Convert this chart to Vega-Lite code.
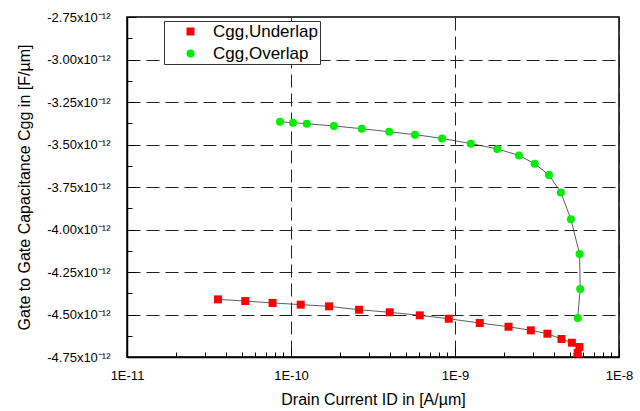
{
  "$schema": "https://vega.github.io/schema/vega-lite/v6.json",
  "autosize": {"type": "none"},
  "width": 492,
  "height": 340,
  "padding": {"left": 127, "top": 17, "right": 21, "bottom": 54},
  "background": "white",
  "config": {
    "font": "Liberation Sans",
    "view": {"stroke": "black", "strokeWidth": 1.5},
    "axis": {
      "domainColor": "black",
      "domainWidth": 1.5,
      "tickColor": "black",
      "tickWidth": 1,
      "labelColor": "black",
      "titleColor": "black",
      "titleFontWeight": "normal",
      "titleFontSize": 16,
      "labelFontSize": 13,
      "gridColor": "#222222",
      "gridDash": [13, 6],
      "gridWidth": 1
    }
  },
  "data": {
    "values": [
      {"series": "Cgg,Underlap", "i": 1, "id": 3.59e-11, "cgg": -4.411e-12},
      {"series": "Cgg,Underlap", "i": 2, "id": 5.26e-11, "cgg": -4.421e-12},
      {"series": "Cgg,Underlap", "i": 3, "id": 7.72e-11, "cgg": -4.432e-12},
      {"series": "Cgg,Underlap", "i": 4, "id": 1.146e-10, "cgg": -4.442e-12},
      {"series": "Cgg,Underlap", "i": 5, "id": 1.706e-10, "cgg": -4.452e-12},
      {"series": "Cgg,Underlap", "i": 6, "id": 2.60e-10, "cgg": -4.472e-12},
      {"series": "Cgg,Underlap", "i": 7, "id": 4.00e-10, "cgg": -4.487e-12},
      {"series": "Cgg,Underlap", "i": 8, "id": 6.10e-10, "cgg": -4.505e-12},
      {"series": "Cgg,Underlap", "i": 9, "id": 9.16e-10, "cgg": -4.525e-12},
      {"series": "Cgg,Underlap", "i": 10, "id": 1.416e-9, "cgg": -4.550e-12},
      {"series": "Cgg,Underlap", "i": 11, "id": 2.12e-9, "cgg": -4.572e-12},
      {"series": "Cgg,Underlap", "i": 12, "id": 2.90e-9, "cgg": -4.593e-12},
      {"series": "Cgg,Underlap", "i": 13, "id": 3.66e-9, "cgg": -4.613e-12},
      {"series": "Cgg,Underlap", "i": 14, "id": 4.46e-9, "cgg": -4.644e-12},
      {"series": "Cgg,Underlap", "i": 15, "id": 5.16e-9, "cgg": -4.666e-12},
      {"series": "Cgg,Underlap", "i": 16, "id": 5.74e-9, "cgg": -4.691e-12},
      {"series": "Cgg,Underlap", "i": 17, "id": 5.60e-9, "cgg": -4.726e-12},
      {"series": "Cgg,Underlap", "i": 18, "id": 5.58e-9, "cgg": -4.748e-12},
      {"series": "Cgg,Overlap", "i": 1, "id": 8.57e-11, "cgg": -3.366e-12},
      {"series": "Cgg,Overlap", "i": 2, "id": 1.028e-10, "cgg": -3.372e-12},
      {"series": "Cgg,Overlap", "i": 3, "id": 1.247e-10, "cgg": -3.378e-12},
      {"series": "Cgg,Overlap", "i": 4, "id": 1.828e-10, "cgg": -3.391e-12},
      {"series": "Cgg,Overlap", "i": 5, "id": 2.70e-10, "cgg": -3.407e-12},
      {"series": "Cgg,Overlap", "i": 6, "id": 3.97e-10, "cgg": -3.425e-12},
      {"series": "Cgg,Overlap", "i": 7, "id": 5.70e-10, "cgg": -3.442e-12},
      {"series": "Cgg,Overlap", "i": 8, "id": 8.34e-10, "cgg": -3.464e-12},
      {"series": "Cgg,Overlap", "i": 9, "id": 1.248e-9, "cgg": -3.495e-12},
      {"series": "Cgg,Overlap", "i": 10, "id": 1.81e-9, "cgg": -3.526e-12},
      {"series": "Cgg,Overlap", "i": 11, "id": 2.455e-9, "cgg": -3.564e-12},
      {"series": "Cgg,Overlap", "i": 12, "id": 3.06e-9, "cgg": -3.613e-12},
      {"series": "Cgg,Overlap", "i": 13, "id": 3.74e-9, "cgg": -3.679e-12},
      {"series": "Cgg,Overlap", "i": 14, "id": 4.42e-9, "cgg": -3.782e-12},
      {"series": "Cgg,Overlap", "i": 15, "id": 5.09e-9, "cgg": -3.940e-12},
      {"series": "Cgg,Overlap", "i": 16, "id": 5.75e-9, "cgg": -4.144e-12},
      {"series": "Cgg,Overlap", "i": 17, "id": 5.80e-9, "cgg": -4.350e-12},
      {"series": "Cgg,Overlap", "i": 18, "id": 5.60e-9, "cgg": -4.521e-12}
    ]
  },
  "encoding": {
    "x": {
      "field": "id",
      "type": "quantitative",
      "scale": {"type": "log", "domain": [1e-11, 1e-8]},
      "axis": {
        "title": "Drain Current ID in [A/µm]",
        "titlePadding": 5,
        "values": [1e-11, 2e-11, 3e-11, 4e-11, 5e-11, 6e-11, 7e-11, 8e-11, 9e-11,
                   1e-10, 2e-10, 3e-10, 4e-10, 5e-10, 6e-10, 7e-10, 8e-10, 9e-10,
                   1e-9, 2e-9, 3e-9, 4e-9, 5e-9, 6e-9, 7e-9, 8e-9, 9e-9, 1e-8],
        "labelExpr": "abs(log(datum.value)/LN10 - round(log(datum.value)/LN10)) < 0.001 ? '1E' + round(log(datum.value)/LN10) : ''",
        "labelFlush": false,
        "labelOverlap": false,
        "labelPadding": 21,
        "tickSize": {"condition": {"test": "abs(log(datum.value)/LN10 - round(log(datum.value)/LN10)) < 0.001", "value": -9}, "value": -5},
        "gridOpacity": {"condition": {"test": "abs(log(datum.value)/LN10 - round(log(datum.value)/LN10)) < 0.001", "value": 1}, "value": 0}
      }
    },
    "y": {
      "field": "cgg",
      "type": "quantitative",
      "scale": {"domain": [-4.75e-12, -2.75e-12]},
      "axis": {
        "title": "Gate to Gate Capacitance Cgg in [F/µm]",
        "titlePadding": 14,
        "values": [-4.75e-12, -4.625e-12, -4.5e-12, -4.375e-12, -4.25e-12, -4.125e-12, -4e-12, -3.875e-12,
                   -3.75e-12, -3.625e-12, -3.5e-12, -3.375e-12, -3.25e-12, -3.125e-12, -3e-12, -2.875e-12, -2.75e-12],
        "labelExpr": "abs(datum.value*4e12 - round(datum.value*4e12)) < 0.01 ? '-' + format(abs(datum.value*1e12), '.2f') + 'x10⁻¹²' : ''",
        "labelOverlap": false,
        "labelFlush": false,
        "labelPadding": 26,
        "tickSize": {"condition": {"test": "abs(datum.value*4e12 - round(datum.value*4e12)) < 0.01", "value": -9}, "value": -5},
        "gridOpacity": {"condition": {"test": "abs(datum.value*4e12 - round(datum.value*4e12)) < 0.01 && datum.value > -4.74e-12 && datum.value < -2.76e-12", "value": 1}, "value": 0}
      }
    }
  },
  "layer": [
    {
      "mark": {"type": "line", "color": "#333333", "strokeWidth": 0.8, "clip": true},
      "encoding": {
        "detail": {"field": "series"},
        "order": {"field": "i", "type": "quantitative"}
      }
    },
    {
      "mark": {"type": "point", "filled": true, "opacity": 1, "size": 64, "clip": true},
      "encoding": {
        "shape": {
          "field": "series",
          "type": "nominal",
          "scale": {"domain": ["Cgg,Underlap", "Cgg,Overlap"], "range": ["square", "circle"]},
          "legend": null
        },
        "color": {
          "field": "series",
          "type": "nominal",
          "scale": {"domain": ["Cgg,Underlap", "Cgg,Overlap"], "range": ["#ff0000", "#00ee00"]},
          "legend": {
            "title": null,
            "orient": "none",
            "legendX": 37,
            "legendY": 4,
            "fillColor": "white",
            "strokeColor": "#333333",
            "padding": 2,
            "labelFontSize": 17,
            "labelColor": "black",
            "labelOffset": 14,
            "rowPadding": 4,
            "symbolSize": 64,
            "symbolOffset": 16
          }
        }
      }
    }
  ]
}
